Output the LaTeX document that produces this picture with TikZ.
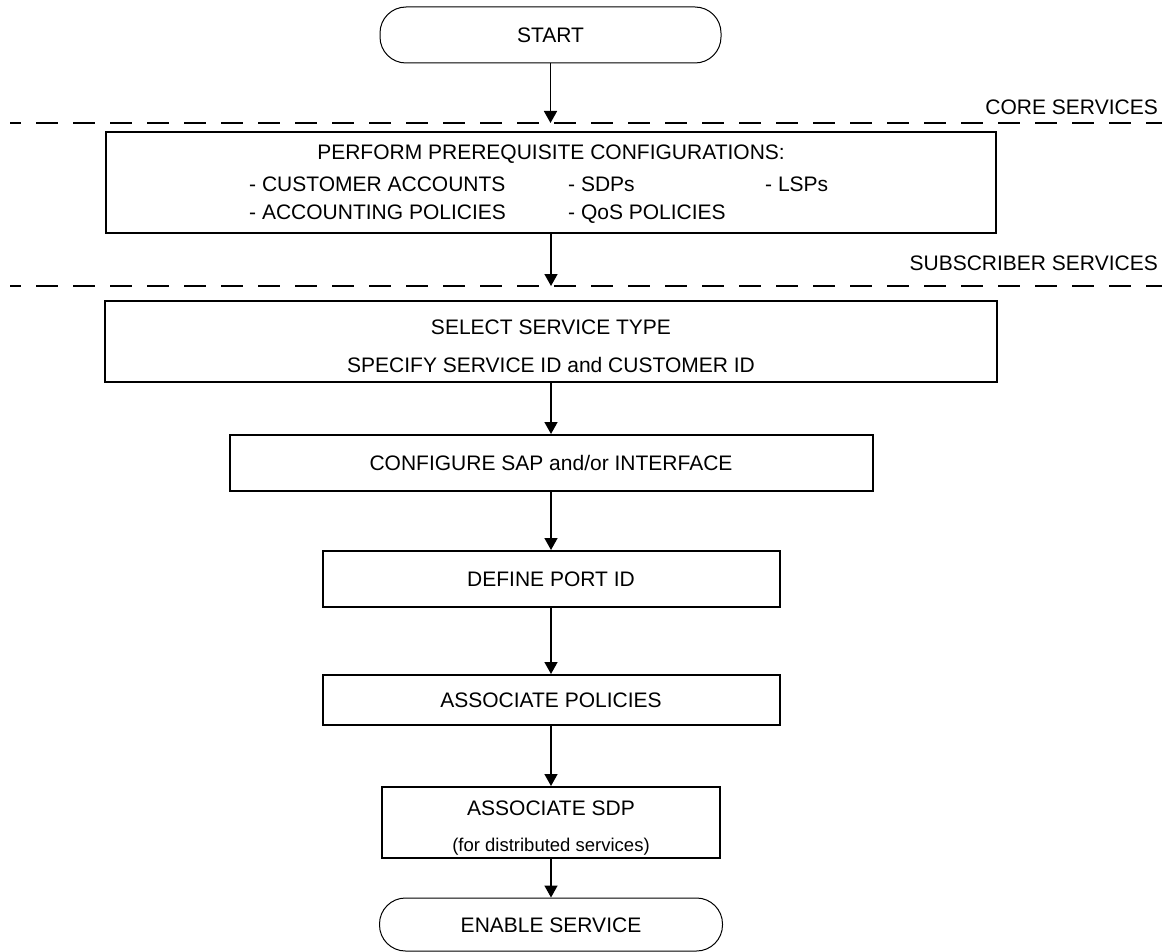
\documentclass[tikz,border=0pt]{standalone}
\usepackage{fontspec}
\setmainfont{Liberation Sans}
\usetikzlibrary{arrows.meta}

\tikzset{
  basefont/.style={font=\fontsize{21}{25}\selectfont},
  smallfont/.style={font=\fontsize{18.5}{22}\selectfont},
  stepbox/.style={draw, line width=2pt, rectangle, inner sep=0pt,
    basefont, text height=15pt, text depth=0pt},
  terminal/.style={draw, line width=1pt, rectangle, rounded corners=26pt,
    inner sep=0pt, basefont, text height=15pt, text depth=0pt},
  lbl/.style={inner sep=0pt, basefont, text height=15pt, text depth=0pt},
  smalllbl/.style={inner sep=0pt, smallfont, text height=13.3pt, text depth=0pt},
  flow/.style={line width=1.6pt, -{Triangle[length=12pt,width=13pt]}},
  divider/.style={line width=2pt, dash pattern=on 22pt off 15pt, dash phase=11pt},
}

\begin{document}
\begin{tikzpicture}[x=1pt,y=-1pt]
  \useasboundingbox (0,0) rectangle (1172,952);

  % start terminal
  \node[terminal, minimum width=341pt, minimum height=56pt] (start) at (550.5,35) {START};

  % boundary between core and subscriber services
  \coordinate (d1w) at (10,123);
  \coordinate (d1e) at (1162,123);
  \draw[divider] (d1w) -- (d1e);
  \node[lbl, anchor=east] (core) at (1158,107) {CORE SERVICES};

  % prerequisite configurations
  \node[stepbox, minimum width=890pt, minimum height=101pt] (prereq) at (551,182.5) {};
  \node[lbl] (prereqtitle) at (551,152) {PERFORM PREREQUISITE CONFIGURATIONS:};
  \node[lbl, anchor=west] (custacc) at (249,184) {- CUSTOMER ACCOUNTS};
  \node[lbl, anchor=west] (sdps) at (568,184) {- SDPs};
  \node[lbl, anchor=west] (lsps) at (765,184) {- LSPs};
  \node[lbl, anchor=west] (accpol) at (249,212) {- ACCOUNTING POLICIES};
  \node[lbl, anchor=west] (qospol) at (568,212) {- QoS POLICIES};

  \coordinate (d2w) at (10,286);
  \coordinate (d2e) at (1162,286);
  \draw[divider] (d2w) -- (d2e);
  \node[lbl, anchor=east] (subscr) at (1158,263) {SUBSCRIBER SERVICES};

  % service creation steps
  \node[stepbox, minimum width=892pt, minimum height=81pt] (select) at (551,341.5) {};
  \node[lbl] (selecttype) at (551,327) {SELECT SERVICE TYPE};
  \node[lbl] (specifyid) at (551,365) {SPECIFY SERVICE ID and CUSTOMER ID};

  \node[stepbox, minimum width=643pt, minimum height=56pt] (sap) at (551,463) {CONFIGURE SAP and/or INTERFACE};
  \node[stepbox, minimum width=457pt, minimum height=56pt] (port) at (551,579) {DEFINE PORT ID};
  \node[stepbox, minimum width=457pt, minimum height=50pt] (policies) at (551,700) {ASSOCIATE POLICIES};

  \node[stepbox, minimum width=338pt, minimum height=71pt] (sdp) at (551,822.5) {};
  \node[lbl] (sdptitle) at (551,808) {ASSOCIATE SDP};
  \node[smalllbl] (sdpnote) at (551,845) {(for distributed services)};

  % end terminal
  \node[terminal, minimum width=343pt, minimum height=53pt] (enable) at (551,924.5) {ENABLE SERVICE};

  % connectors
  \draw[flow] (start.south) -- (start.south |- d1w);
  \draw[flow] (prereq.south) -- (prereq.south |- d2w);
  \draw[flow] (select.south) -- (sap.north);
  \draw[flow] (sap.south) -- (port.north);
  \draw[flow] (port.south) -- (policies.north);
  \draw[flow] (policies.south) -- (sdp.north);
  \draw[flow] (sdp.south) -- (enable.north);
\end{tikzpicture}
\end{document}
